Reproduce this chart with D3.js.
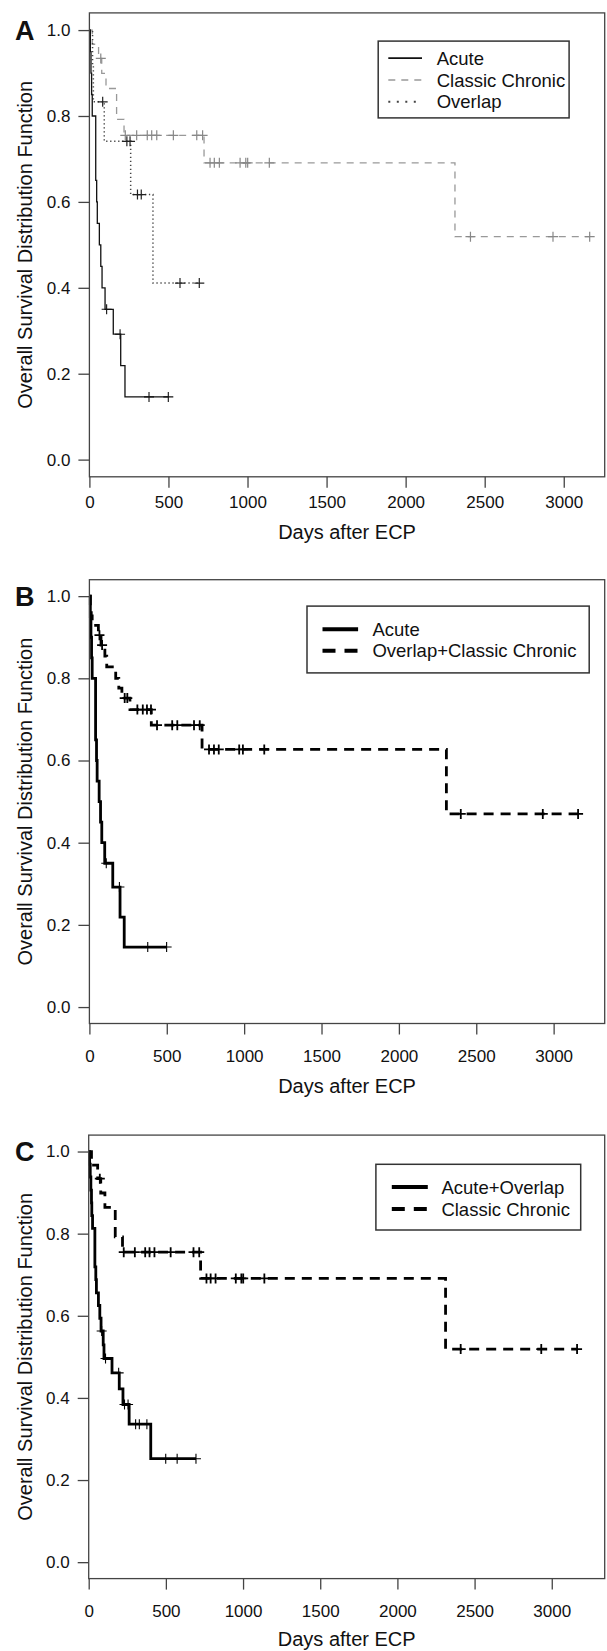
<!DOCTYPE html>
<meta charset="utf-8">
<head>
    <title>Overall survival after ECP</title>
    <style>
        html, body {
            margin: 0;
            padding: 0;
            background: #fff;
        }

        body {
          font-family: "Liberation Sans", Arial, Helvetica, sans-serif;
          color: #111;
        }

        svg text { fill: #111; }

        .frame {
          fill: none;
          stroke: #444;
          stroke-width: 1.3;
        }

        .axis path { display: none; }
        .axis line { stroke: #444; stroke-width: 1.3; }
        .axis text {
          font-family: "Liberation Sans", Arial, sans-serif;
          font-size: 17px;
          fill: #111;
        }

        .label { font-size: 20px; }
        .letter { font-size: 27px; font-weight: bold; }

        .legend rect { fill: #fff; stroke: #333; stroke-width: 1.5; }
        .legend text { font-size: 18.5px; }

        .curve, .marks { fill: none; }
    </style>
</head>
<body>
    <svg id="chart" width="607" height="1651"></svg>
    <script src="https://cdn.jsdelivr.net/npm/d3@7"></script>
    <script>
        // tick values
        const dayTicks = [0, 500, 1000, 1500, 2000, 2500, 3000];
        const survTicks = [0, 0.2, 0.4, 0.6, 0.8, 1.0];

        // step curves: time of each step and survival after it
        const acuteTimes = [0, 6, 10, 14, 18, 40, 46, 50, 63, 72, 80, 99, 151, 198, 225];
        const acuteSurv = [1, 0.95, 0.90, 0.85, 0.80, 0.65, 0.60, 0.55, 0.50, 0.45, 0.40, 0.35, 0.292, 0.219, 0.146];
        const acuteCensored = [109, 194, 377, 499];

        const chronicTimes = [0, 18, 58, 78, 105, 172, 219, 725, 2312];
        const chronicSurv = [1, 0.967, 0.934, 0.899, 0.864, 0.792, 0.755, 0.691, 0.519];
        const chronicCensored = [72, 227, 299, 366, 394, 426, 531, 679, 716, 763, 790, 822,
                                 953, 989, 1001, 1138, 2410, 2932, 3164];

        const overlapTimes = [0, 20, 25, 94, 261, 402];
        const overlapSurv = [1, 0.917, 0.833, 0.741, 0.617, 0.411];
        const overlapCensored = [84, 237, 257, 304, 328, 573, 695];

        const ovChronicTimes = [0, 6, 12, 18, 58, 75, 100, 112, 170, 190, 210, 262, 400, 728, 2307];
        const ovChronicSurv = [1, 0.976, 0.952, 0.929, 0.905, 0.881, 0.854, 0.828, 0.800, 0.776, 0.752,
                               0.724, 0.686, 0.627, 0.470];
        const ovChronicCensored = [65, 82, 228, 245, 310, 345, 372, 398, 437, 535, 568, 676, 713,
                                   773, 805, 836, 968, 992, 1130, 2400, 2930, 3158];

        const acuteOvTimes = [0, 6, 10, 14, 18, 20, 25, 40, 46, 50, 63, 72, 80, 94, 99, 151, 198, 222, 262, 402];
        const acuteOvSurv = [1, 0.969, 0.938, 0.906, 0.875, 0.844, 0.813, 0.719, 0.688, 0.656, 0.625,
                             0.594, 0.563, 0.529, 0.496, 0.461, 0.422, 0.384, 0.336, 0.252];
        const acuteOvCensored = [84, 109, 194, 232, 255, 304, 328, 377, 499, 573, 695];

        // line styles
        const thinSolid = {stroke: '#111', width: 1.3, dash: null, legendDash: null, legendWidth: 1.8, mark: '#111', markWidth: 1.1};
        const grayDash = {stroke: '#999', width: 1.3, dash: '7,6', legendDash: '7,6', legendWidth: 1.5, mark: '#888', markWidth: 1.2};
        const dotted = {stroke: '#444', width: 1.5, dash: '1.3,2.7', legendDash: '2,6.5', legendWidth: 2, mark: '#222', markWidth: 1.2};
        const thickSolid = {stroke: '#000', width: 2.8, dash: null, legendDash: null, legendWidth: 4, mark: '#000', markWidth: 1.1};
        const thickDash = {stroke: '#000', width: 2.8, dash: '10,7', legendDash: '13,9', legendWidth: 4, mark: '#000', markWidth: 1.8};

        const panels = [
            {
                letter: 'A', box: [89.4, 12.9, 604.7, 476.8], xMax: 3259, xPad: 8.3, titleY: 539.2,
                legend: {box: [378.2, 41.1, 569.1, 117.9], x0: 388.3, x1: 422, tx: 436.7, rows: [58.2, 80, 101.8]},
                series: [
                    {name: 'Acute', times: acuteTimes, surv: acuteSurv, cens: acuteCensored, style: thinSolid},
                    {name: 'Classic Chronic', times: chronicTimes, surv: chronicSurv, cens: chronicCensored, style: grayDash},
                    {name: 'Overlap', times: overlapTimes, surv: overlapSurv, cens: overlapCensored, style: dotted}
                ],
                drawOrder: [1, 2, 0]
            },
            {
                letter: 'B', box: [89.4, 579.7, 604.7, 1023.5], xMax: 3330, xPad: 15, titleY: 1092.5,
                legend: {box: [307, 606.1, 589.2, 672.9], x0: 322.5, x1: 358.1, tx: 372.4, rows: [629.3, 650.7]},
                series: [
                    {name: 'Acute', times: acuteTimes, surv: acuteSurv, cens: acuteCensored, style: thickSolid},
                    {name: 'Overlap+Classic Chronic', times: ovChronicTimes, surv: ovChronicSurv, cens: ovChronicCensored, style: thickDash}
                ],
                drawOrder: [1, 0]
            },
            {
                letter: 'C', box: [88.7, 1135.1, 604.7, 1578.6], xMax: 3343, xPad: 15.4, titleY: 1646,
                legend: {box: [375.9, 1164.3, 580.7, 1230], x0: 391.8, x1: 427.8, tx: 441.4, rows: [1187.1, 1208.9]},
                series: [
                    {name: 'Acute+Overlap', times: acuteOvTimes, surv: acuteOvSurv, cens: acuteOvCensored, style: thickSolid},
                    {name: 'Classic Chronic', times: chronicTimes, surv: chronicSurv, cens: chronicCensored, style: thickDash}
                ],
                drawOrder: [1, 0]
            }
        ];

        const svg = d3.select('#chart');

        function survAt(s, t) {
            let i = d3.bisectRight(s.times, t) - 1;
            return s.surv[Math.max(0, i)];
        }

        function drawPanel(p) {
            let [left, top, right, bottom] = p.box;
            let x = d3.scaleLinear().domain([0, p.xMax]).range([left, right]);
            let y = d3.scaleLinear().domain([-0.04, 1.04]).range([bottom, top]);
            let g = svg.append('g');

            g.append('g')
                .attr('class', 'axis')
                .attr('transform', 'translate(0,' + bottom + ')')
                .call(d3.axisBottom(x).tickValues(dayTicks).tickSize(11)
                    .tickPadding(p.xPad).tickFormat(d3.format('d')));

            g.append('g')
                .attr('class', 'axis')
                .attr('transform', 'translate(' + left + ',0)')
                .call(d3.axisLeft(y).tickValues(survTicks).tickSize(11)
                    .tickPadding(8).tickFormat(d3.format('.1f')));

            let line = d3.line()
                .x(d => x(d[0]))
                .y(d => y(d[1]))
                .curve(d3.curveStepAfter);

            p.drawOrder.forEach(k => {
                let s = p.series[k];
                let pts = s.times.map((t, i) => [t, s.surv[i]]);
                let end = Math.max(d3.max(s.cens), d3.max(s.times));
                pts.push([end, s.surv[s.surv.length - 1]]);

                g.append('path')
                    .attr('class', 'curve')
                    .attr('d', line(pts))
                    .attr('stroke', s.style.stroke)
                    .attr('stroke-width', s.style.width)
                    .attr('stroke-dasharray', s.style.dash);

                g.append('g')
                    .attr('class', 'marks')
                    .selectAll('path')
                    .data(s.cens)
                    .enter()
                    .append('path')
                    .attr('d', t => {
                        let cx = x(t), cy = y(survAt(s, t));
                        return 'M' + (cx - 5) + ',' + cy + 'h10M' + cx + ',' + (cy - 5) + 'v10';
                    })
                    .attr('stroke', s.style.mark)
                    .attr('stroke-width', s.style.markWidth);
            });

            g.append('rect')
                .attr('class', 'frame')
                .attr('x', left)
                .attr('y', top)
                .attr('width', right - left)
                .attr('height', bottom - top);

            // legend
            let lg = g.append('g').attr('class', 'legend');
            let b = p.legend.box;
            lg.append('rect')
                .attr('x', b[0]).attr('y', b[1])
                .attr('width', b[2] - b[0]).attr('height', b[3] - b[1]);

            p.series.forEach((s, i) => {
                let ry = p.legend.rows[i];
                lg.append('line')
                    .attr('x1', p.legend.x0).attr('x2', p.legend.x1)
                    .attr('y1', ry).attr('y2', ry)
                    .attr('stroke', s.style.stroke)
                    .attr('stroke-width', s.style.legendWidth)
                    .attr('stroke-dasharray', s.style.legendDash);
                lg.append('text')
                    .attr('x', p.legend.tx)
                    .attr('y', ry)
                    .attr('dy', '0.36em')
                    .text(s.name);
            });

            // axis titles and panel letter
            g.append('text')
                .attr('class', 'label')
                .attr('x', (left + right) / 2)
                .attr('y', p.titleY)
                .attr('text-anchor', 'middle')
                .text('Days after ECP');

            g.append('text')
                .attr('class', 'label')
                .attr('transform', 'translate(25.2,' + ((y(0) + y(1)) / 2) + ') rotate(-90)')
                .attr('text-anchor', 'middle')
                .attr('dy', '0.36em')
                .text('Overall Survival Distribution Function');

            g.append('text')
                .attr('class', 'letter')
                .attr('x', 15)
                .attr('y', y(1) + 9.7)
                .text(p.letter);
        }

        panels.forEach(drawPanel);
    </script>
</body>
</html>
